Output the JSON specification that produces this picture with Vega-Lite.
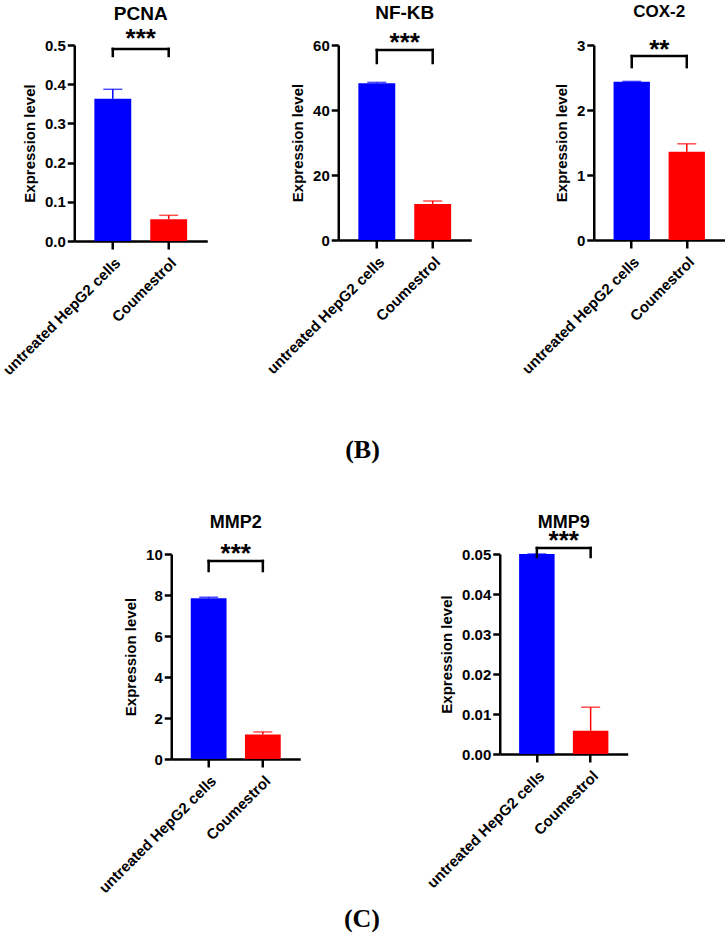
{
  "$schema": "https://vega.github.io/schema/vega-lite/v6.json",
  "padding": {"left": 0, "top": 3, "right": 0, "bottom": 0},
  "background": "white",
  "datasets": {
    "expr": [
      {"gene": "PCNA", "group": "untreated HepG2 cells", "mean": 0.363, "upper": 0.387},
      {"gene": "PCNA", "group": "Coumestrol", "mean": 0.0555, "upper": 0.0655},
      {"gene": "NF-KB", "group": "untreated HepG2 cells", "mean": 48.2, "upper": 48.5},
      {"gene": "NF-KB", "group": "Coumestrol", "mean": 11.1, "upper": 12.0},
      {"gene": "COX-2", "group": "untreated HepG2 cells", "mean": 2.435, "upper": 2.44},
      {"gene": "COX-2", "group": "Coumestrol", "mean": 1.358, "upper": 1.48},
      {"gene": "MMP2", "group": "untreated HepG2 cells", "mean": 7.84, "upper": 7.89},
      {"gene": "MMP2", "group": "Coumestrol", "mean": 1.2, "upper": 1.32},
      {"gene": "MMP9", "group": "untreated HepG2 cells", "mean": 0.05, "upper": 0.05},
      {"gene": "MMP9", "group": "Coumestrol", "mean": 0.0058, "upper": 0.0117}
    ],
    "sig": [
      {"gene": "PCNA", "stars": "***"},
      {"gene": "NF-KB", "stars": "***"},
      {"gene": "COX-2", "stars": "**"},
      {"gene": "MMP2", "stars": "***"},
      {"gene": "MMP9", "stars": "***"}
    ]
  },
  "vconcat": [
    {
      "hconcat": [
        {
          "hconcat": [
            {
              "width": 133, "height": 196,
              "title": {"text": "PCNA", "offset": 2.3},
              "layer": [
                {
                  "data": {"name": "expr"},
                  "transform": [{"filter": "datum.gene === 'PCNA'"}],
                  "encoding": {
                    "x": {"field": "group", "type": "nominal", "scale": {"domain": ["untreated HepG2 cells", "Coumestrol"], "paddingInner": 0.34, "paddingOuter": 0.36}, "axis": {"title": null}},
                    "color": {"field": "group", "type": "nominal", "scale": {"domain": ["untreated HepG2 cells", "Coumestrol"], "range": ["#0000ff", "#ff0000"]}, "legend": null}
                  },
                  "layer": [
                    {"mark": {"type": "bar"}, "encoding": {"y": {"field": "mean", "type": "quantitative", "scale": {"domain": [0, 0.5], "nice": false}, "axis": {"title": "Expression level", "values": [0, 0.1, 0.2, 0.3, 0.4, 0.5], "format": ".1f"}}}},
                    {"mark": {"type": "rule", "strokeWidth": 1.5}, "encoding": {"y": {"field": "mean", "type": "quantitative", "axis": {"title": "Expression level", "values": [0, 0.1, 0.2, 0.3, 0.4, 0.5], "format": ".1f"}}, "y2": {"field": "upper"}}},
                    {"mark": {"type": "tick", "thickness": 1.5, "size": 19}, "encoding": {"y": {"field": "upper", "type": "quantitative", "axis": {"title": "Expression level", "values": [0, 0.1, 0.2, 0.3, 0.4, 0.5], "format": ".1f"}}}}
                  ]
                },
                {
                  "data": {"name": "sig"},
                  "transform": [{"filter": "datum.gene === 'PCNA'"}],
                  "layer": [
                    {"mark": {"type": "rule", "color": "black", "strokeWidth": 2.5, "strokeCap": "square"}, "encoding": {"x": {"datum": "untreated HepG2 cells"}, "x2": {"datum": "Coumestrol"}, "y": {"datum": 0.49, "axis": {"title": "Expression level", "values": [0, 0.1, 0.2, 0.3, 0.4, 0.5], "format": ".1f"}}}},
                    {"mark": {"type": "rule", "color": "black", "strokeWidth": 2.5, "strokeCap": "square"}, "encoding": {"x": {"datum": "untreated HepG2 cells"}, "y": {"datum": 0.49, "axis": {"title": "Expression level", "values": [0, 0.1, 0.2, 0.3, 0.4, 0.5], "format": ".1f"}}, "y2": {"datum": 0.472}}},
                    {"mark": {"type": "rule", "color": "black", "strokeWidth": 2.5, "strokeCap": "square"}, "encoding": {"x": {"datum": "Coumestrol"}, "y": {"datum": 0.49, "axis": {"title": "Expression level", "values": [0, 0.1, 0.2, 0.3, 0.4, 0.5], "format": ".1f"}}, "y2": {"datum": 0.472}}},
                    {"mark": {"type": "text", "color": "black", "fontSize": 26, "fontWeight": "bold", "baseline": "alphabetic", "align": "center"}, "encoding": {"x": {"datum": "untreated HepG2 cells", "bandPosition": 1.2576}, "y": {"datum": 0.4946, "axis": {"title": "Expression level", "values": [0, 0.1, 0.2, 0.3, 0.4, 0.5], "format": ".1f"}}, "text": {"field": "stars"}}}
                  ]
                }
              ]
            },
            {
              "width": 133, "height": 195,
              "title": {"text": "NF-KB", "offset": 6.2},
              "layer": [
                {
                  "data": {"name": "expr"},
                  "transform": [{"filter": "datum.gene === 'NF-KB'"}],
                  "encoding": {
                    "x": {"field": "group", "type": "nominal", "scale": {"domain": ["untreated HepG2 cells", "Coumestrol"], "paddingInner": 0.34, "paddingOuter": 0.36}, "axis": {"title": null}},
                    "color": {"field": "group", "type": "nominal", "scale": {"domain": ["untreated HepG2 cells", "Coumestrol"], "range": ["#0000ff", "#ff0000"]}, "legend": null}
                  },
                  "layer": [
                    {"mark": {"type": "bar"}, "encoding": {"y": {"field": "mean", "type": "quantitative", "scale": {"domain": [0, 60], "nice": false}, "axis": {"title": "Expression level", "values": [0, 20, 40, 60], "format": "d"}}}},
                    {"mark": {"type": "rule", "strokeWidth": 1.5}, "encoding": {"y": {"field": "mean", "type": "quantitative", "axis": {"title": "Expression level", "values": [0, 20, 40, 60], "format": "d"}}, "y2": {"field": "upper"}}},
                    {"mark": {"type": "tick", "thickness": 1.5, "size": 19}, "encoding": {"y": {"field": "upper", "type": "quantitative", "axis": {"title": "Expression level", "values": [0, 20, 40, 60], "format": "d"}}}}
                  ]
                },
                {
                  "data": {"name": "sig"},
                  "transform": [{"filter": "datum.gene === 'NF-KB'"}],
                  "layer": [
                    {"mark": {"type": "rule", "color": "black", "strokeWidth": 2.5, "strokeCap": "square"}, "encoding": {"x": {"datum": "untreated HepG2 cells"}, "x2": {"datum": "Coumestrol"}, "y": {"datum": 58.46, "axis": {"title": "Expression level", "values": [0, 20, 40, 60], "format": "d"}}}},
                    {"mark": {"type": "rule", "color": "black", "strokeWidth": 2.5, "strokeCap": "square"}, "encoding": {"x": {"datum": "untreated HepG2 cells"}, "y": {"datum": 58.46, "axis": {"title": "Expression level", "values": [0, 20, 40, 60], "format": "d"}}, "y2": {"datum": 54.46}}},
                    {"mark": {"type": "rule", "color": "black", "strokeWidth": 2.5, "strokeCap": "square"}, "encoding": {"x": {"datum": "Coumestrol"}, "y": {"datum": 58.46, "axis": {"title": "Expression level", "values": [0, 20, 40, 60], "format": "d"}}, "y2": {"datum": 54.46}}},
                    {"mark": {"type": "text", "color": "black", "fontSize": 26, "fontWeight": "bold", "baseline": "alphabetic", "align": "center"}, "encoding": {"x": {"datum": "untreated HepG2 cells", "bandPosition": 1.2576}, "y": {"datum": 58.3, "axis": {"title": "Expression level", "values": [0, 20, 40, 60], "format": "d"}}, "text": {"field": "stars"}}}
                  ]
                }
              ]
            }
          ],
          "spacing": 57
        },
        {
          "width": 131, "height": 195,
          "title": {"text": "COX-2", "offset": 16, "fontSize": 17},
          "layer": [
            {
              "data": {"name": "expr"},
              "transform": [{"filter": "datum.gene === 'COX-2'"}],
              "encoding": {
                "x": {"field": "group", "type": "nominal", "scale": {"domain": ["untreated HepG2 cells", "Coumestrol"], "paddingInner": 0.34, "paddingOuter": 0.36}, "axis": {"title": null}},
                "color": {"field": "group", "type": "nominal", "scale": {"domain": ["untreated HepG2 cells", "Coumestrol"], "range": ["#0000ff", "#ff0000"]}, "legend": null}
              },
              "layer": [
                {"mark": {"type": "bar"}, "encoding": {"y": {"field": "mean", "type": "quantitative", "scale": {"domain": [0, 3], "nice": false}, "axis": {"title": "Expression level", "values": [0, 1, 2, 3], "format": "d"}}}},
                {"mark": {"type": "rule", "strokeWidth": 1.5}, "encoding": {"y": {"field": "mean", "type": "quantitative", "axis": {"title": "Expression level", "values": [0, 1, 2, 3], "format": "d"}}, "y2": {"field": "upper"}}},
                {"mark": {"type": "tick", "thickness": 1.5, "size": 19}, "encoding": {"y": {"field": "upper", "type": "quantitative", "axis": {"title": "Expression level", "values": [0, 1, 2, 3], "format": "d"}}}}
              ]
            },
            {
              "data": {"name": "sig"},
              "transform": [{"filter": "datum.gene === 'COX-2'"}],
              "layer": [
                {"mark": {"type": "rule", "color": "black", "strokeWidth": 2.5, "strokeCap": "square"}, "encoding": {"x": {"datum": "untreated HepG2 cells"}, "x2": {"datum": "Coumestrol"}, "y": {"datum": 2.83, "axis": {"title": "Expression level", "values": [0, 1, 2, 3], "format": "d"}}}},
                {"mark": {"type": "rule", "color": "black", "strokeWidth": 2.5, "strokeCap": "square"}, "encoding": {"x": {"datum": "untreated HepG2 cells"}, "y": {"datum": 2.83, "axis": {"title": "Expression level", "values": [0, 1, 2, 3], "format": "d"}}, "y2": {"datum": 2.66}}},
                {"mark": {"type": "rule", "color": "black", "strokeWidth": 2.5, "strokeCap": "square"}, "encoding": {"x": {"datum": "Coumestrol"}, "y": {"datum": 2.83, "axis": {"title": "Expression level", "values": [0, 1, 2, 3], "format": "d"}}, "y2": {"datum": 2.66}}},
                {"mark": {"type": "text", "color": "black", "fontSize": 26, "fontWeight": "bold", "baseline": "alphabetic", "align": "center"}, "encoding": {"x": {"datum": "untreated HepG2 cells", "bandPosition": 1.2576}, "y": {"datum": 2.8, "axis": {"title": "Expression level", "values": [0, 1, 2, 3], "format": "d"}}, "text": {"field": "stars"}}}
              ]
            }
          ]
        }
      ],
      "spacing": 47.5,
      "title": {"text": "(B)", "orient": "bottom", "anchor": "middle", "frame": "bounds", "font": "Liberation Serif", "fontSize": 26, "fontWeight": "bold", "offset": 59}
    },
    {
      "hconcat": [
        {
          "width": 129, "height": 205,
          "title": {"text": "MMP2", "offset": 9.4, "fontSize": 18},
          "layer": [
            {
              "data": {"name": "expr"},
              "transform": [{"filter": "datum.gene === 'MMP2'"}],
              "encoding": {
                "x": {"field": "group", "type": "nominal", "scale": {"domain": ["untreated HepG2 cells", "Coumestrol"], "paddingInner": 0.34, "paddingOuter": 0.36}, "axis": {"title": null}},
                "color": {"field": "group", "type": "nominal", "scale": {"domain": ["untreated HepG2 cells", "Coumestrol"], "range": ["#0000ff", "#ff0000"]}, "legend": null}
              },
              "layer": [
                {"mark": {"type": "bar"}, "encoding": {"y": {"field": "mean", "type": "quantitative", "scale": {"domain": [0, 10], "nice": false}, "axis": {"title": "Expression level", "values": [0, 2, 4, 6, 8, 10], "format": "d"}}}},
                {"mark": {"type": "rule", "strokeWidth": 1.5}, "encoding": {"y": {"field": "mean", "type": "quantitative", "axis": {"title": "Expression level", "values": [0, 2, 4, 6, 8, 10], "format": "d"}}, "y2": {"field": "upper"}}},
                {"mark": {"type": "tick", "thickness": 1.5, "size": 19}, "encoding": {"y": {"field": "upper", "type": "quantitative", "axis": {"title": "Expression level", "values": [0, 2, 4, 6, 8, 10], "format": "d"}}}}
              ]
            },
            {
              "data": {"name": "sig"},
              "transform": [{"filter": "datum.gene === 'MMP2'"}],
              "layer": [
                {"mark": {"type": "rule", "color": "black", "strokeWidth": 2.5, "strokeCap": "square"}, "encoding": {"x": {"datum": "untreated HepG2 cells"}, "x2": {"datum": "Coumestrol"}, "y": {"datum": 9.66, "axis": {"title": "Expression level", "values": [0, 2, 4, 6, 8, 10], "format": "d"}}}},
                {"mark": {"type": "rule", "color": "black", "strokeWidth": 2.5, "strokeCap": "square"}, "encoding": {"x": {"datum": "untreated HepG2 cells"}, "y": {"datum": 9.66, "axis": {"title": "Expression level", "values": [0, 2, 4, 6, 8, 10], "format": "d"}}, "y2": {"datum": 9.17}}},
                {"mark": {"type": "rule", "color": "black", "strokeWidth": 2.5, "strokeCap": "square"}, "encoding": {"x": {"datum": "Coumestrol"}, "y": {"datum": 9.66, "axis": {"title": "Expression level", "values": [0, 2, 4, 6, 8, 10], "format": "d"}}, "y2": {"datum": 9.17}}},
                {"mark": {"type": "text", "color": "black", "fontSize": 26, "fontWeight": "bold", "baseline": "alphabetic", "align": "center"}, "encoding": {"x": {"datum": "untreated HepG2 cells", "bandPosition": 1.2576}, "y": {"datum": 9.6, "axis": {"title": "Expression level", "values": [0, 2, 4, 6, 8, 10], "format": "d"}}, "text": {"field": "stars"}}}
              ]
            }
          ]
        },
        {
          "width": 128, "height": 200,
          "title": {"text": "MMP9", "offset": -4, "fontSize": 18},
          "layer": [
            {
              "data": {"name": "expr"},
              "transform": [{"filter": "datum.gene === 'MMP9'"}],
              "encoding": {
                "x": {"field": "group", "type": "nominal", "scale": {"domain": ["untreated HepG2 cells", "Coumestrol"], "paddingInner": 0.34, "paddingOuter": 0.36}, "axis": {"title": null}},
                "color": {"field": "group", "type": "nominal", "scale": {"domain": ["untreated HepG2 cells", "Coumestrol"], "range": ["#0000ff", "#ff0000"]}, "legend": null}
              },
              "layer": [
                {"mark": {"type": "bar"}, "encoding": {"y": {"field": "mean", "type": "quantitative", "scale": {"domain": [0, 0.05], "nice": false}, "axis": {"title": "Expression level", "values": [0, 0.01, 0.02, 0.03, 0.04, 0.05], "format": ".2f"}}}},
                {"mark": {"type": "rule", "strokeWidth": 1.5}, "encoding": {"y": {"field": "mean", "type": "quantitative", "axis": {"title": "Expression level", "values": [0, 0.01, 0.02, 0.03, 0.04, 0.05], "format": ".2f"}}, "y2": {"field": "upper"}}},
                {"mark": {"type": "tick", "thickness": 1.5, "size": 19}, "encoding": {"y": {"field": "upper", "type": "quantitative", "axis": {"title": "Expression level", "values": [0, 0.01, 0.02, 0.03, 0.04, 0.05], "format": ".2f"}}}}
              ]
            },
            {
              "data": {"name": "sig"},
              "transform": [{"filter": "datum.gene === 'MMP9'"}],
              "layer": [
                {"mark": {"type": "rule", "color": "black", "strokeWidth": 2.5, "strokeCap": "square"}, "encoding": {"x": {"datum": "untreated HepG2 cells"}, "x2": {"datum": "Coumestrol"}, "y": {"datum": 0.0515, "axis": {"title": "Expression level", "values": [0, 0.01, 0.02, 0.03, 0.04, 0.05], "format": ".2f"}}}},
                {"mark": {"type": "rule", "color": "black", "strokeWidth": 2.5, "strokeCap": "square"}, "encoding": {"x": {"datum": "untreated HepG2 cells"}, "y": {"datum": 0.0515, "axis": {"title": "Expression level", "values": [0, 0.01, 0.02, 0.03, 0.04, 0.05], "format": ".2f"}}, "y2": {"datum": 0.04925}}},
                {"mark": {"type": "rule", "color": "black", "strokeWidth": 2.5, "strokeCap": "square"}, "encoding": {"x": {"datum": "Coumestrol"}, "y": {"datum": 0.0515, "axis": {"title": "Expression level", "values": [0, 0.01, 0.02, 0.03, 0.04, 0.05], "format": ".2f"}}, "y2": {"datum": 0.04925}}},
                {"mark": {"type": "text", "color": "black", "fontSize": 26, "fontWeight": "bold", "baseline": "alphabetic", "align": "center"}, "encoding": {"x": {"datum": "untreated HepG2 cells", "bandPosition": 1.2576}, "y": {"datum": 0.0513, "axis": {"title": "Expression level", "values": [0, 0.01, 0.02, 0.03, 0.04, 0.05], "format": ".2f"}}, "text": {"field": "stars"}}}
              ]
            }
          ]
        }
      ],
      "spacing": 123.5,
      "title": {"text": "(C)", "orient": "bottom", "anchor": "middle", "frame": "bounds", "font": "Liberation Serif", "fontSize": 26, "fontWeight": "bold", "offset": 10.5}
    }
  ],
  "spacing": 50,
  "center": true,
  "config": {
    "view": {"stroke": null},
    "font": "Liberation Sans",
    "title": {"font": "Liberation Sans", "fontSize": 19, "fontWeight": "bold", "color": "black", "anchor": "middle", "frame": "group", "baseline": "top"},
    "axis": {"domainColor": "black", "domainWidth": 2.5, "tickColor": "black", "tickWidth": 2.5, "tickSize": 7, "labelFont": "Liberation Sans", "labelFontWeight": "bold", "labelColor": "black", "labelFontSize": 15, "titleFont": "Liberation Sans", "titleFontWeight": "bold", "titleColor": "black", "titleFontSize": 15, "grid": false, "labelOverlap": false},
    "axisX": {"labelAngle": -45, "labelPadding": 6, "tickSize": 8},
    "axisY": {"labelPadding": 2, "titlePadding": 7}
  }
}
